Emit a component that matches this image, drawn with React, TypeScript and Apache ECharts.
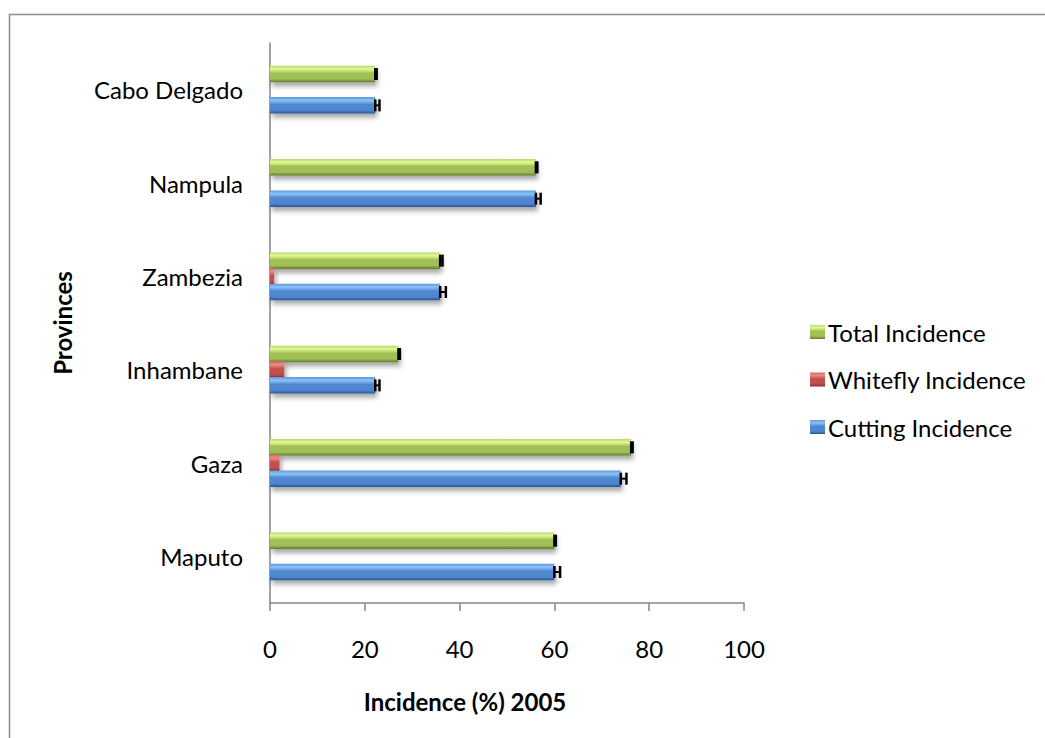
import React, { useEffect, useRef } from "react";
import * as echarts from "echarts";

const provinces = ["Maputo", "Gaza", "Inhambane", "Zambezia", "Nampula", "Cabo Delgado"];
const cuttingIncidence = [60.0, 74.0, 22.2, 35.9, 56.1, 22.2];
const cuttingError = [1.2, 1.2, 0.9, 1.2, 1.0, 0.9];
const whiteflyIncidence = [0, 2.0, 3.0, 0.9, 0, 0];
const totalIncidence = [60.0, 76.2, 27.1, 35.9, 56.1, 22.2];
const totalError = [0.3, 0.3, 0.3, 0.5, 0.3, 0.3];
const xTicks = { min: 0, max: 100, interval: 20 };

const FONT = "Lato, 'Open Sans', sans-serif";
const BAR_W = 16.5;

function grad(top: string, hi: string, mid: string, bot: string) {
  return new echarts.graphic.LinearGradient(0, 0, 0, 1, [
    { offset: 0, color: top },
    { offset: 0.2, color: hi },
    { offset: 0.45, color: mid },
    { offset: 0.8, color: mid },
    { offset: 1, color: bot },
  ]);
}

function errSeries(name: string, vals: number[], errs: number[], offset: number) {
  return {
    type: "custom",
    name,
    silent: true,
    z: 5,
    encode: { x: 0, y: 1 },
    data: vals.map((v, i) => [v, i, errs[i]]),
    renderItem: (params: any, api: any) => {
      const v = api.value(0);
      const c = api.value(1);
      const e = api.value(2);
      const a = api.coord([v, c]);
      const b = api.coord([v + e, c]);
      const y = a[1] + offset;
      const h = 6;
      return {
        type: "group",
        children: [
          { type: "line", shape: { x1: a[0], y1: y - h, x2: a[0], y2: y + h }, style: { stroke: "#000", lineWidth: 2.5 } },
          { type: "line", shape: { x1: b[0], y1: y - h, x2: b[0], y2: y + h }, style: { stroke: "#000", lineWidth: 2.5 } },
          { type: "line", shape: { x1: a[0], y1: y, x2: b[0], y2: y }, style: { stroke: "#000", lineWidth: 2 } },
        ],
      };
    },
  };
}

export default function App() {
  const ref = useRef<HTMLDivElement>(null);
  useEffect(() => {
    const chart = echarts.init(ref.current!, null, { renderer: "svg" });
    const shadow = { shadowColor: "rgba(0,0,0,0.35)", shadowBlur: 5, shadowOffsetY: 4, shadowOffsetX: 2 };
    chart.setOption({
      animation: false,
      backgroundColor: "#fff",
      graphic: [
        {
          type: "rect",
          shape: { x: 9.5, y: 14.5, width: 1100, height: 800 },
          style: { fill: "none", stroke: "#8c8c8c", lineWidth: 1.5 },
          silent: true,
        },
        {
          type: "text",
          x: 465,
          y: 701,
          style: {
            text: "Incidence (%) 2005",
            fontFamily: FONT,
            fontSize: 24,
            fontWeight: "bold",
            fill: "#000",
            align: "center",
            verticalAlign: "middle",
          },
          silent: true,
        },
      ],
      grid: { left: 270, right: 301, top: 43, bottom: 135 },
      legend: {
        orient: "vertical",
        left: 805,
        top: 315,
        itemWidth: 15,
        itemHeight: 14,
        itemGap: 23.5,
        icon: "rect",
        data: ["Total Incidence", "Whitefly Incidence", "Cutting Incidence"],
        textStyle: { fontFamily: FONT, fontSize: 24, color: "#000", lineHeight: 22, padding: [0, 0, 0, -2] },
      },
      xAxis: {
        type: "value",
        min: xTicks.min,
        max: xTicks.max,
        interval: xTicks.interval,
        splitLine: { show: false },
        axisLine: { show: true, lineStyle: { color: "#868686", width: 1.5 } },
        axisTick: { show: true, length: 8, lineStyle: { color: "#868686", width: 1.5 } },
        axisLabel: { margin: 33, fontFamily: FONT, fontSize: 24, color: "#000" },
      },
      yAxis: {
        type: "category",
        data: provinces,
        axisLine: { show: true, lineStyle: { color: "#868686", width: 1.5 } },
        axisTick: { show: false },
        axisLabel: { margin: 27, fontFamily: FONT, fontSize: 24, color: "#000" },
        name: "Provinces",
        nameLocation: "middle",
        nameGap: 196,
        nameTextStyle: { fontFamily: FONT, fontSize: 24, fontWeight: "bold", color: "#000" },
      },
      series: [
        {
          type: "bar",
          name: "Total Incidence",
          data: totalIncidence,
          barWidth: BAR_W,
          barGap: "-5%",
          itemStyle: { color: grad("#b9d870", "#e4fa95", "#a0bf55", "#5f7a2e"), ...shadow },
        },
        {
          type: "bar",
          name: "Whitefly Incidence",
          data: whiteflyIncidence,
          barWidth: BAR_W,
          barGap: "-5%",
          itemStyle: { color: grad("#d86663", "#f08a86", "#c0504d", "#85292a"), ...shadow },
        },
        {
          type: "bar",
          name: "Cutting Incidence",
          data: cuttingIncidence,
          barWidth: BAR_W,
          barGap: "-5%",
          itemStyle: { color: grad("#5e97dc", "#8cc3f7", "#4f86cf", "#2a5690"), ...shadow },
        },
        errSeries("cutErr", cuttingIncidence, cuttingError, BAR_W * 0.95),
        errSeries("totErr", totalIncidence, totalError, -BAR_W * 0.95),
      ],
    });
    return () => chart.dispose();
  }, []);
  return (
    <div
      ref={ref}
      style={{ position: "absolute", left: 0, top: 0, width: 1045, height: 738 }}
    />
  );
}
